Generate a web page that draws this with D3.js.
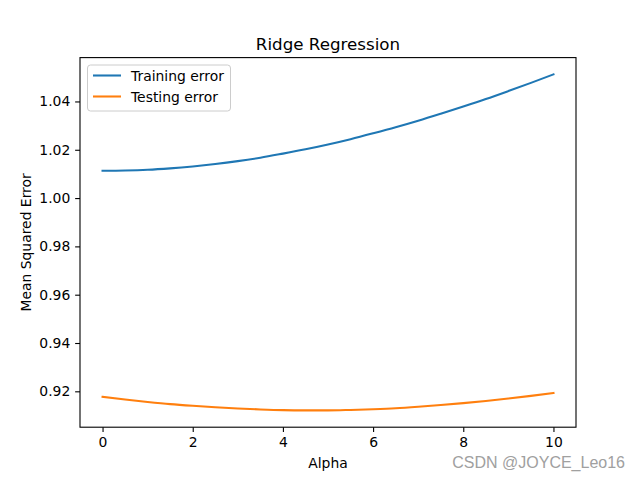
<!DOCTYPE html>
<html><head><meta charset="utf-8">
<script src="https://cdn.jsdelivr.net/npm/d3@7/dist/d3.min.js"></script>
<style>body{margin:0;background:#fff}svg{display:block;font-family:"DejaVu Sans",sans-serif}</style>
</head><body>
<svg id="c" width="640" height="480"></svg>
<script>
const alphas = [0,0.5,1,1.5,2,2.5,3,3.5,4,4.5,5,5.5,6,6.5,7,7.5,8,8.5,9,9.5,10];
const trainErr = [1.0113,1.0114,1.0117,1.0123,1.0131,1.0141,1.0153,1.0167,1.0184,1.0202,1.0222,1.0244,1.0268,1.0293,1.0320,1.0349,1.0379,1.0410,1.0443,1.0477,1.0512];
const testErr = [0.9177,0.9166,0.9156,0.9147,0.9140,0.9134,0.9129,0.9125,0.9122,0.9121,0.9121,0.9123,0.9126,0.9130,0.9136,0.9143,0.9151,0.9160,0.9170,0.9181,0.9193];
const xTicks = [0,2,4,6,8,10];
const yTicks = [0.92,0.94,0.96,0.98,1.00,1.02,1.04];
const seriesNames = ["Training error","Testing error"];
const colors = ["#1f77b4","#ff7f0e"];

const svg = d3.select("#c");
const L=80,R=576,T=57.6,B=427.2;
const xr = 10-0, yMin = d3.min(testErr), yMax = d3.max(trainErr), yr=yMax-yMin;
const x = d3.scaleLinear().domain([0-0.05*xr,10+0.05*xr]).range([L,R]);
const y = d3.scaleLinear().domain([yMin-0.05*yr,yMax+0.05*yr]).range([B,T]);

const xAxis = d3.axisBottom(x).tickValues(xTicks).tickFormat(d3.format("d")).tickSize(4.86).tickPadding(4.86);
const yAxis = d3.axisLeft(y).tickValues(yTicks).tickFormat(d3.format(".2f")).tickSize(4.86).tickPadding(4.86);
const gx = svg.append("g").attr("transform",`translate(0,${B})`).call(xAxis);
const gy = svg.append("g").attr("transform",`translate(${L},0)`).call(yAxis);
[gx,gy].forEach(g=>{g.select(".domain").remove();g.selectAll("line").attr("stroke","#000").attr("stroke-width",1.1);g.selectAll("text").attr("font-size","13.9px").attr("fill","#000").attr("font-family","DejaVu Sans");});

const data=[trainErr,testErr];
const line = d3.line().x((d,i)=>x(alphas[i])).y(d=>y(d)).curve(d3.curveMonotoneX);
data.forEach((s,k)=>svg.append("path").datum(s).attr("d",line).attr("fill","none").attr("stroke",colors[k]).attr("stroke-width",2.08).attr("stroke-linecap","square"));

svg.append("rect").attr("x",L).attr("y",T).attr("width",R-L).attr("height",B-T).attr("fill","none").attr("stroke","#000").attr("stroke-width",1.1);

svg.append("text").attr("x",(L+R)/2).attr("y",49.5).attr("text-anchor","middle").attr("font-size","16.7px").text("Ridge Regression");
svg.append("text").attr("x",(L+R)/2).attr("y",468).attr("text-anchor","middle").attr("font-size","13.9px").text("Alpha");
svg.append("text").attr("transform",`translate(31,${(T+B)/2}) rotate(-90)`).attr("text-anchor","middle").attr("font-size","13.9px").text("Mean Squared Error");

const lg = svg.append("g");
lg.append("rect").attr("x",87.5).attr("y",65).attr("width",143).attr("height",46).attr("rx",3).attr("fill","#fff").attr("fill-opacity",0.8).attr("stroke","#ccc").attr("stroke-width",1);
seriesNames.forEach((n,k)=>{
  const yy = 75.5+k*21;
  lg.append("line").attr("x1",93).attr("x2",121).attr("y1",yy).attr("y2",yy).attr("stroke",colors[k]).attr("stroke-width",2.08);
  lg.append("text").attr("x",131).attr("y",yy+5).attr("font-size","13.9px").text(n);
});

svg.append("text").attr("x",625).attr("y",468).attr("text-anchor","end").attr("font-family","Liberation Sans, Arial, sans-serif").attr("font-size","16px").attr("fill","#a0a0a0").attr("stroke","#fff").attr("stroke-width",0.5).attr("paint-order","stroke").text("CSDN @JOYCE_Leo16");
</script>
</body></html>
